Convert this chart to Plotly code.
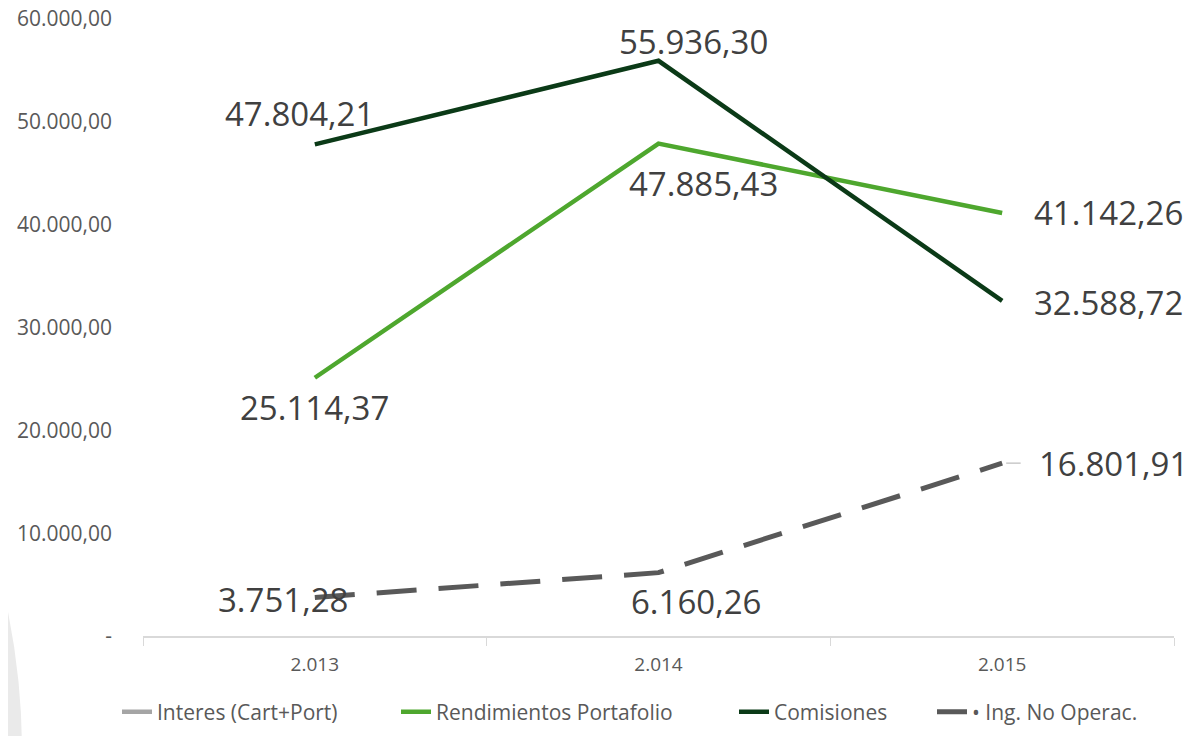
import plotly.graph_objects as go

# ── DATA ──────────────────────────────────────────────────────────────────
years = ["2.013", "2.014", "2.015"]
interes = [None, None, None]          # series has no visible points in the chart
rendimientos = [25114.37, 47885.43, 41142.26]
comisiones = [47804.21, 55936.30, 32588.72]
ing_no_operac = [3751.28, 6160.26, 16801.91]

y_ticks = [0, 10000, 20000, 30000, 40000, 50000, 60000]


def es_fmt(v):
    """Spanish number format: 47.804,21"""
    s = f"{v:,.2f}"
    return s.replace(",", "X").replace(".", ",").replace("X", ".")


tick_text = ["-" if v == 0 else es_fmt(v) for v in y_ticks]

# ── COLOURS ───────────────────────────────────────────────────────────────
C_INTERES = "#A5A5A5"
C_REND = "#4EA72E"
C_COMIS = "#0B3A17"
C_ING = "#595959"
C_LABEL = "#404040"
C_AXIS_TXT = "#595959"

FONT = "Open Sans, Noto Sans, sans-serif"

fig = go.Figure()

fig.add_trace(go.Scatter(
    x=years, y=interes, mode="lines", name="Interes (Cart+Port)",
    line=dict(color=C_INTERES, width=4.5), legend="legend",
))
fig.add_trace(go.Scatter(
    x=years, y=rendimientos, mode="lines", name="Rendimientos Portafolio",
    line=dict(color=C_REND, width=4.5), legend="legend2",
))
fig.add_trace(go.Scatter(
    x=years, y=comisiones, mode="lines", name="Comisiones",
    line=dict(color=C_COMIS, width=4.5), legend="legend3",
))
fig.add_trace(go.Scatter(
    x=years, y=ing_no_operac, mode="lines", name="• Ing. No Operac.",
    line=dict(color=C_ING, width=5, dash="40px,22px"), legend="legend4",
))

# ── DATA LABELS (pixel offsets per point) ─────────────────────────────────
label_offsets = {
    "rend": [(0, -30, "center"), (45, -40, "center"), (30, 0, "left")],
    "comis": [(-15, 31, "center"), (35, 19, "center"), (30, -2, "left")],
    "ing": [(-32, -2, "center"), (37, -29, "center"), (35, 0, "left")],
}
series = {"rend": rendimientos, "comis": comisiones, "ing": ing_no_operac}

for key, values in series.items():
    for i, (v, (dx, dy, anchor)) in enumerate(zip(values, label_offsets[key])):
        # category index as x, so "2.013" is not read as a number
        fig.add_annotation(
            x=i, y=v, text=es_fmt(v), showarrow=False,
            xshift=dx, yshift=dy, xanchor=anchor, yanchor="middle",
            font=dict(family=FONT, size=33, color=C_LABEL),
        )

# small grey leader line at the last "Ing. No Operac." label
fig.add_annotation(
    x=2, y=ing_no_operac[2], text="", showarrow=True,
    ax=20, ay=0, arrowhead=0, arrowwidth=1.2, arrowcolor="#BFBFBF",
    standoff=4,
)

# light grey decorative arc at the left edge (paper coords of a big circle)
fig.add_shape(
    type="circle", xref="paper", yref="paper", layer="below",
    x0=(-1422 - 143) / 1031, x1=(22 - 143) / 1031,
    y0=(643 - 1482) / 624, y1=(643 - 38) / 624,
    fillcolor="#EAEAEA", line_width=0,
)

# ── LEGENDS: one per series so each entry sits where the original has it ──
# kept high enough that the legends do not push the bottom margin
legend_style = dict(
    orientation="h", yanchor="middle", xanchor="left",
    y=(643 - 720) / 624,
    font=dict(size=21, color=C_AXIS_TXT),
    itemwidth=30, bgcolor="rgba(0,0,0,0)",
)
legend_text_starts = [157, 436, 774, 972]   # screen px where each entry's text begins

legends = {}
for n, px in enumerate(legend_text_starts):
    key = "legend" if n == 0 else f"legend{n + 1}"
    legends[key] = dict(legend_style, x=(px - 40 - 143) / 1031)

# ── LAYOUT ────────────────────────────────────────────────────────────────
# the page adds 8 px around the figure, so margins are 8 px short of target
fig.update_layout(
    width=1198,
    height=736,
    margin=dict(l=135, r=32, t=11, b=101),
    plot_bgcolor="white",
    paper_bgcolor="white",
    font=dict(family=FONT, color=C_AXIS_TXT),
    showlegend=True,
    **legends,
    xaxis=dict(
        type="category",
        range=[-0.5, 2.5],
        automargin=False,
        showline=True,
        linecolor="#D9D9D9",
        linewidth=1.5,
        ticks="outside",
        tickson="boundaries",
        ticklen=8,
        tickcolor="#D9D9D9",
        tickfont=dict(size=19, color=C_AXIS_TXT),
        ticklabelstandoff=10,
        showgrid=False,
        zeroline=False,
    ),
    yaxis=dict(
        range=[0, 60000],
        automargin=False,
        tickvals=y_ticks,
        ticktext=tick_text,
        tickfont=dict(size=21, color=C_AXIS_TXT),
        ticklabelstandoff=30,
        ticklabeloverflow="allow",
        showline=False,
        showgrid=False,
        zeroline=False,
    ),
)

fig.write_html("out.html")
